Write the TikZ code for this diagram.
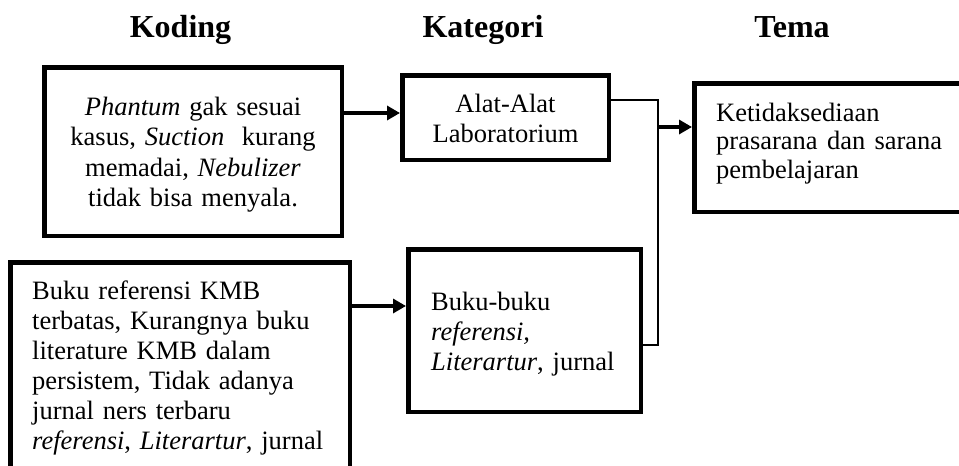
\documentclass[tikz,border=0pt]{standalone}
\usepackage{fontspec}
\setmainfont{Liberation Serif}
\usetikzlibrary{arrows.meta}
\begin{document}
\begin{tikzpicture}[x=1pt,y=-1pt,
  box/.style={draw, line width=4.5pt, inner sep=0pt},
  txt/.style={inner sep=0pt, font=\fontsize{26.5}{30}\selectfont},
  head/.style={inner sep=0pt, anchor=base, font=\fontsize{32}{36}\selectfont\bfseries},
  arr/.style={line width=3.4pt, -{Triangle[length=13pt,width=14pt]}},
  link/.style={line width=2pt}
]
\useasboundingbox (0,0) rectangle (959,466);
\clip (0,0) rectangle (959,466);

% headings
\node[head] (h1) at (180.5,37) {Koding};
\node[head] (h2) at (483,37) {Kategori};
\node[head] (h3) at (792,37) {Tema};

% boxes
\node[box, minimum width=297.5pt, minimum height=168.5pt] (b1) at (193,151.5) {};
\node[box, minimum width=206.5pt, minimum height=84.5pt] (b2) at (505.5,117.5) {};
\node[box, minimum width=300pt, minimum height=128.5pt] (tm) at (844.25,147.5) {};
\node[box, minimum width=339.5pt, minimum height=225.5pt] (b3) at (180,375) {};
\node[box, minimum width=232.5pt, minimum height=162.5pt] (b4) at (524.5,330.5) {};

% texts
\node[txt, font=\fontsize{26.5}{30.5}\selectfont, text width=300pt, align=center, anchor=north] (t1) at (193,93.65)
  {\strut\textit{Phantum} gak sesuai\\ kasus, \textit{Suction}\ \ kurang\\ memadai, \textit{Nebulizer}\\ tidak bisa menyala.};
\node[txt, text width=206pt, align=center, anchor=north] (t2) at (505.5,91)
  {\strut Alat-Alat\\ Laboratorium};
\node[txt, font=\fontsize{26.5}{28.5}\selectfont, text width=230pt, align=left, anchor=north west] (tt) at (716,101.05)
  {\strut Ketidaksediaan\\ \leavevmode\hbox to 226pt{prasarana\hfill dan\hfill sarana}\\ pembelajaran};
\node[txt, text width=330pt, align=left, anchor=north west] (t3) at (32,278)
  {\strut Buku referensi KMB\\ terbatas, Kurangnya buku\\ literature KMB dalam\\ persistem, Tidak adanya\\ jurnal ners terbaru\\ \textit{referensi}, \textit{Literartur}, jurnal};
\node[txt, text width=210pt, align=left, anchor=north west] (t4) at (431,289)
  {\strut Buku-buku\\ \textit{referensi,}\\ \textit{Literartur}, jurnal};

% connector rows
\coordinate (r1) at (0,113);
\coordinate (r2) at (0,100);
\coordinate (r3) at (0,345);
\coordinate (r4) at (0,127);
\coordinate (r5) at (0,306);
\coordinate (jx) at (658,0);

\draw[arr] (b1.east |- r1) -- (b2.west |- r1);
\draw[arr] (b3.east |- r5) -- (b4.west |- r5);
\draw[link] (b2.east |- r2) -- (jx |- r2) -- (jx |- r3) -- (b4.east |- r3);
\draw[arr] (jx |- r4) -- (tm.west |- r4);
\end{tikzpicture}
\end{document}
